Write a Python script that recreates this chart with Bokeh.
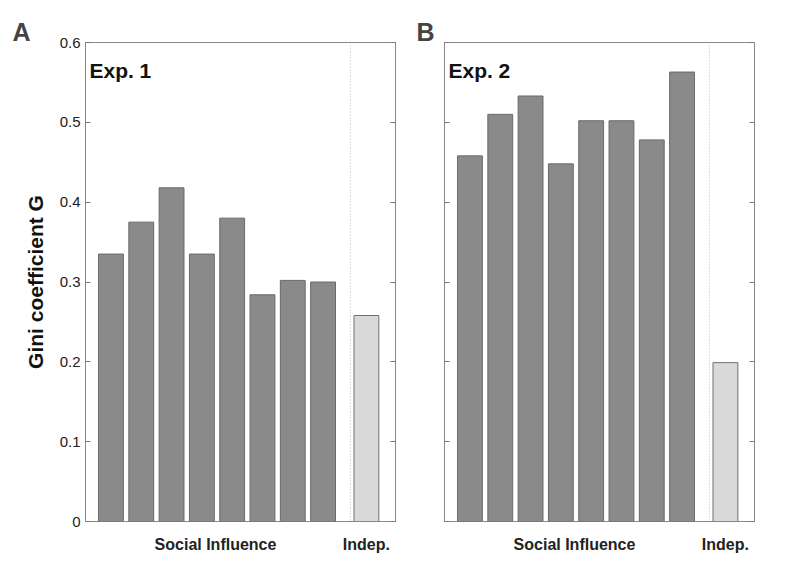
from bokeh.plotting import figure
from bokeh.layouts import row
from bokeh.models import Label, Span, LinearAxis, FixedTicker, CustomJSTickFormatter
from bokeh.embed import file_html
from bokeh.resources import INLINE

exp1_social = [0.335, 0.375, 0.418, 0.335, 0.380, 0.284, 0.302, 0.300]
exp1_indep = 0.258
exp2_social = [0.458, 0.510, 0.533, 0.448, 0.502, 0.502, 0.478, 0.563]
exp2_indep = 0.199
panel_letters = ["A", "B"]
exp_titles = ["Exp. 1", "Exp. 2"]
group_labels = ["Social Influence", "Indep."]
y_ticks = [0, 0.1, 0.2, 0.3, 0.4, 0.5, 0.6]

FONT = "Liberation Sans"

def blank():
    return CustomJSTickFormatter(code="return ''")

def panel(social, indep, letter, title, left_border, width, labels):
    p = figure(width=width, height=565, x_range=(0.16, 10.39), y_range=(0, 0.6),
               output_backend="svg", toolbar_location=None,
               min_border_left=left_border, min_border_right=width - left_border - 310,
               min_border_top=42, min_border_bottom=565 - 42 - 479)
    p.grid.visible = False
    p.outline_line_color = "#888888"
    p.title.text = letter
    p.title.text_font = FONT
    p.title.text_font_style = "bold"
    p.title.text_font_size = "25px"
    p.title.align = "left"
    p.title.offset = -(left_border - 12)
    p.title.standoff = -6
    xs = list(range(1, len(social) + 1))
    p.vbar(x=xs, top=social, width=0.82, fill_color="#8a8a8a", line_color="#6a6a6a")
    p.vbar(x=[9.43], top=[indep], width=0.82, fill_color="#d9d9d9", line_color="#707070")
    p.add_layout(Span(location=8.9, dimension="height", line_color="#bbbbbb",
                      line_dash="1 2", line_width=1))
    ya = p.yaxis[0]
    ya.ticker = FixedTicker(ticks=y_ticks)
    ya.axis_line_color = None
    ya.major_tick_in = 5
    ya.major_tick_out = 0
    ya.minor_tick_line_color = None
    ya.major_tick_line_color = "#777777"
    ya.major_label_text_font = FONT
    ya.major_label_text_font_size = "15px"
    ya.major_label_text_color = "#222222"
    if labels:
        ya.axis_label = "Gini coefficient G"
        ya.axis_label_text_font = FONT
        ya.axis_label_text_font_style = "bold"
        ya.axis_label_text_font_size = "21px"
        ya.axis_label_text_color = "#111111"
        ya.axis_label_standoff = 10
    else:
        ya.formatter = blank()
    ra = LinearAxis(ticker=FixedTicker(ticks=y_ticks), axis_line_color=None,
                    major_tick_in=5, major_tick_out=0, minor_tick_line_color=None,
                    major_tick_line_color="#777777", formatter=blank())
    p.add_layout(ra, "right")
    xa = p.xaxis[0]
    xa.ticker = FixedTicker(ticks=[4.45, 9.43])
    xa.major_label_overrides = {4.45: group_labels[0], 9.43: group_labels[1]}
    xa.axis_line_color = None
    xa.major_tick_line_color = None
    xa.minor_tick_line_color = None
    xa.major_label_standoff = 8
    xa.major_label_text_font = FONT
    xa.major_label_text_font_style = "bold"
    xa.major_label_text_font_size = "16px"
    xa.major_label_text_color = "#222222"
    p.add_layout(Label(x=0.29, y=0.565, text=title, text_font=FONT, text_font_style="bold",
                       text_font_size="21px", text_baseline="middle", text_color="#111111"))
    return p

pa = panel(exp1_social, exp1_indep, panel_letters[0], exp_titles[0], 85, 404, True)
pb = panel(exp2_social, exp2_indep, panel_letters[1], exp_titles[1], 40, 363, False)

layout = row(pa, pb)
open("out.html", "w").write(file_html(layout, INLINE))
